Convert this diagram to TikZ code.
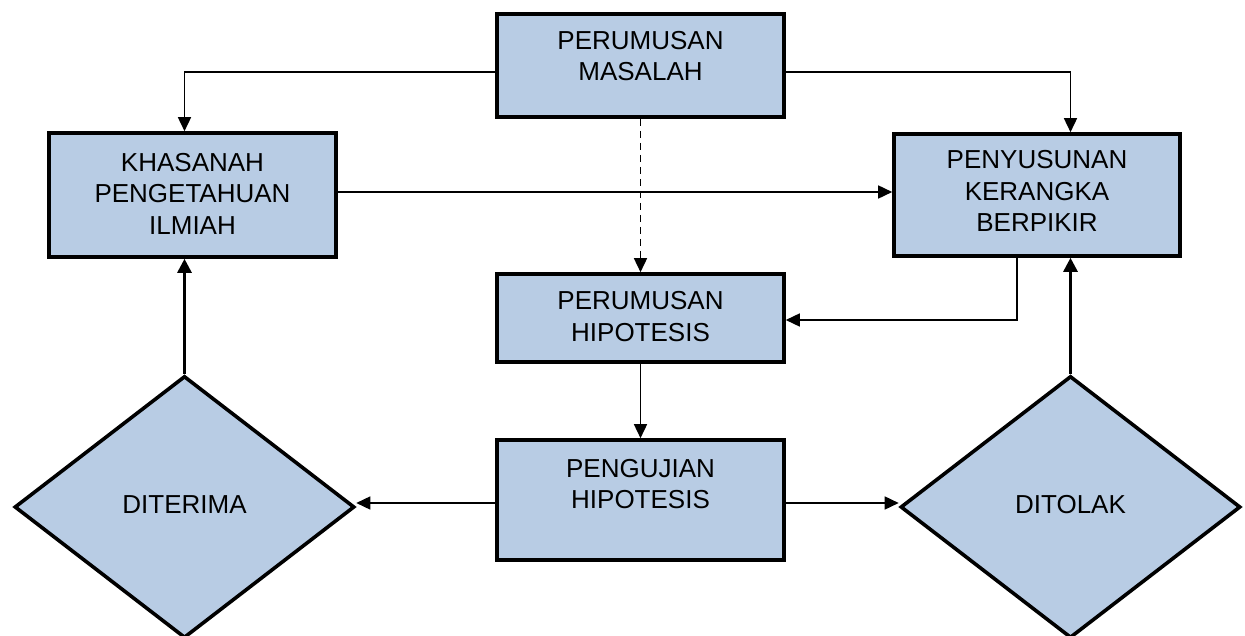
\documentclass[tikz,border=0pt]{standalone}
\usepackage{fontspec}
\setmainfont{Liberation Sans}
\usetikzlibrary{shapes.geometric,arrows.meta,calc}
\definecolor{boxblue}{RGB}{184,204,228}
\tikzset{
  stepbox/.style={draw=black, line width=3.6pt, fill=boxblue, inner sep=0pt},
  decision/.style={diamond, draw=black, line width=3.6pt, fill=boxblue, inner sep=0pt,
                   minimum width=340pt, minimum height=262pt},
  txt/.style={align=center, font=\fontsize{26}{31.5}\selectfont, text=black},
  conn/.style={line width=1.6pt, -{Triangle[length=14pt,width=13pt]}},
  thickconn/.style={line width=2.8pt, -{Triangle[length=14pt,width=14pt]}},
}
\begin{document}
\begin{tikzpicture}[x=1pt,y=-1pt]
\useasboundingbox (0,0) rectangle (1245,636);

% process boxes
\node[stepbox, minimum width=287pt, minimum height=103pt,
      label={[txt, yshift=9.5pt]center:PERUMUSAN\\MASALAH}] (masalah) at (640.5,65.5) {};
\node[stepbox, minimum width=287pt, minimum height=124pt,
      label={[txt, yshift=1.5pt]center:KHASANAH\\PENGETAHUAN\\ILMIAH}] (khasanah) at (192.5,195) {};
\node[stepbox, minimum width=286pt, minimum height=122pt,
      label={[txt, yshift=4pt]center:PENYUSUNAN\\KERANGKA\\BERPIKIR}] (penyusunan) at (1037,195) {};
\node[stepbox, minimum width=287pt, minimum height=88pt,
      label={[txt, yshift=1.5pt]center:PERUMUSAN\\HIPOTESIS}] (hipotesis) at (640.5,318) {};
\node[stepbox, minimum width=287pt, minimum height=120pt,
      label={[txt, yshift=16pt]center:PENGUJIAN\\HIPOTESIS}] (pengujian) at (640.5,500) {};

% decisions
\node[decision, label={[txt, yshift=2pt]center:DITERIMA}] (diterima) at (184.5,507) {};
\node[decision, label={[txt, yshift=2pt]center:DITOLAK}] (ditolak) at (1070.5,507) {};

% connectors
\draw[conn] ([yshift=-6.5pt]masalah.west) -| (khasanah.north -| diterima.north);
\draw[conn] ([yshift=-6.5pt]masalah.east) -| (penyusunan.north -| ditolak.north);
\draw[conn] ([yshift=3pt]khasanah.east) -- ([yshift=3pt]khasanah.east -| penyusunan.west);
\draw[conn, dash pattern=on 7pt off 5pt] (masalah.south) -- (hipotesis.north);
\draw[conn] ([xshift=-20pt]penyusunan.south) |- ([yshift=-2pt]hipotesis.east);
\draw[conn] (hipotesis.south) -- (pengujian.north);
\draw[conn] ([yshift=-3pt]pengujian.west) -- ([yshift=-3pt]pengujian.west -| diterima.east);
\draw[conn] ([yshift=-3pt]pengujian.east) -- ([yshift=-3pt]pengujian.east -| ditolak.west);
\draw[thickconn] (diterima.north) -- (khasanah.south -| diterima.north);
\draw[thickconn] (ditolak.north) -- (penyusunan.south -| ditolak.north);
\end{tikzpicture}
\end{document}
